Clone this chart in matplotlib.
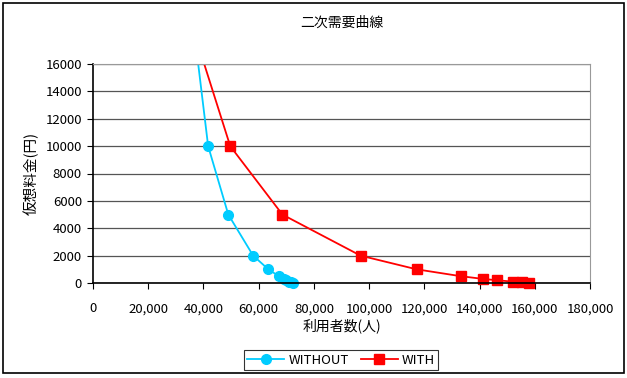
import matplotlib.pyplot as plt
from matplotlib.patches import Rectangle

plt.rcParams['font.family'] = ['Noto Sans CJK JP', 'DejaVu Sans']

# 料金段階ごとの利用者数
price = [20000, 10000, 5000, 2000, 1000, 500, 300, 200, 100, 50, 0]
users_without = [35700, 41700, 49000, 58000, 63500, 67300, 69000, 70000, 71000, 71800, 72500]
users_with = [34000, 49700, 68600, 96900, 117200, 133100, 141200, 146300, 152100, 155400, 157900]

x_ticks = list(range(0, 180001, 20000))
y_ticks = list(range(0, 16001, 2000))

fig = plt.figure(figsize=(6.27, 3.78), dpi=100)
ax = fig.add_axes([93 / 627, 1 - 283 / 378, (590 - 93) / 627, (283 - 64) / 378])

# 外枠
fig.patches.append(Rectangle((3 / 627, 5 / 378), 621 / 627, 370 / 378,
                             transform=fig.transFigure, fill=False,
                             edgecolor='black', lw=1.2))

l1, = ax.plot(users_without, price, '-o', color='#00CCFF', lw=1.3, ms=7,
              label='WITHOUT')
l2, = ax.plot(users_with, price, '-s', color='#FF0000', lw=1.3, ms=7,
              label='WITH')
# 上端だけで切り、0付近のマーカーは軸の下にはみ出させる
for ln in (l1, l2):
    clip = Rectangle((-0.1, -0.2), 1.2, 1.2, transform=ax.transAxes)
    ln.set_clip_path(clip)

ax.set_xlim(0, 180000)
ax.set_ylim(0, 16000)
ax.set_xticks(x_ticks)
ax.set_xticklabels([f'{v:,}' for v in x_ticks])
ax.set_yticks(y_ticks)
ax.set_yticklabels([str(v) for v in y_ticks])
ax.tick_params(labelsize=9.5, length=4, width=0.8, direction='out', pad=4)
ax.tick_params(axis='x', pad=10)

ax.grid(axis='y', color='#555555', lw=0.9)
ax.set_axisbelow(True)
for s in ['top', 'right']:
    ax.spines[s].set_color('#999999')
for s in ['left', 'bottom']:
    ax.spines[s].set_color('black')
    ax.spines[s].set_linewidth(1.2)

ax.set_title('二次需要曲線', fontsize=10, pad=27)
ax.set_xlabel('利用者数(人)', fontsize=10, labelpad=2)
ax.set_ylabel('仮想料金(円)', fontsize=10.5, labelpad=5)

leg = fig.legend(loc='center', bbox_to_anchor=(341 / 627, 1 - 360 / 378),
                 ncol=2, fontsize=9.5, frameon=True, fancybox=False,
                 edgecolor='black', handlelength=2.8, columnspacing=0.9,
                 borderpad=0.25, handletextpad=0.3)
leg.get_frame().set_linewidth(0.8)

fig.savefig('out.png', dpi=100)
